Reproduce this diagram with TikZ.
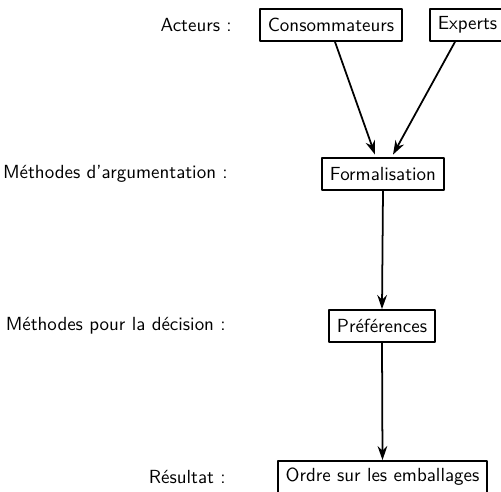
\documentclass[tikz,border=0pt]{standalone}
\usetikzlibrary{arrows.meta}
\begin{document}
\begin{tikzpicture}[>={Stealth[length=8pt,width=5.5pt]}, x=0.02cm, y=-0.02cm, font=\sffamily\fontsize{10.8}{13}\selectfont, line join=round,
	boite/.style={draw, line width=1pt, minimum height=0.64cm, inner xsep=4.5pt},
	etiq/.style={anchor=east, inner sep=0pt}]
	\useasboundingbox (0,0) rectangle (501,492);
	% --- Les boites ---
	\node[boite] (cons) at (331,25) {Consommateurs};
	\node[boite, anchor=west] (exp) at (429,25) {Experts};
	\node[boite] (form) at (383,174) {Formalisation};
	\node[boite] (pref) at (382,326) {Préférences};
	\node[boite] (ordre) at (382.5,477) {Ordre sur les emballages};
	
	% --- Les etiquettes ---
	\node[etiq] (lact) at (232,25) {Acteurs :};
	\node[etiq] (larg) at (228,174) {Méthodes d'argumentation :};
	\node[etiq] (ldec) at (226,326) {Méthodes pour la décision :};
	\node[etiq] (lres) at (226,477) {Résultat :};
	
	% --- Les fleches ---
	\draw[->, line width=1pt] ([xshift=0.08cm]cons.south) -- ([xshift=-0.16cm,yshift=0.05cm]form.north);
	\draw[->, line width=1pt] ([xshift=0.52cm]exp.south west) -- ([xshift=0.2cm,yshift=0.05cm]form.north);
	\draw[->, line width=1pt] (form.south) -- (pref.north);
	\draw[->, line width=1pt] (pref.south) -- (ordre.north);
\end{tikzpicture}
\end{document}
